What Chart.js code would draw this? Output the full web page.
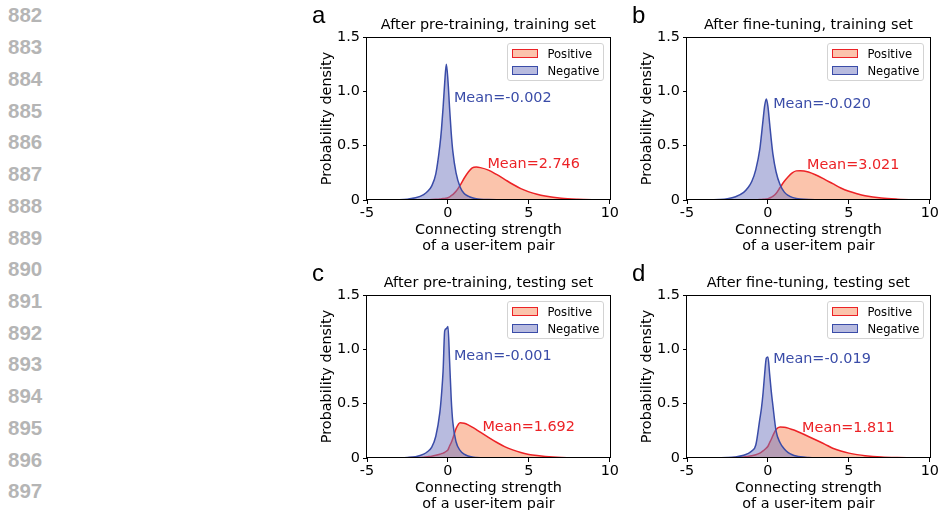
<!DOCTYPE html>
<html>
<head>
<meta charset="utf-8">
<script src="https://cdn.jsdelivr.net/npm/chart.js@4.4.1/dist/chart.umd.min.js"></script>
<style>
    html, body { margin: 0; padding: 0; background: #fff; overflow: hidden; }
    body { width: 938px; height: 510px; position: relative; font-family: "DejaVu Sans", sans-serif; }
    .line-no { position: absolute; left: 8px; font: bold 20.5px "Liberation Sans", Arial, sans-serif; color: #b5b5b5; line-height: 1; }
    .panel { position: absolute; width: 320px; height: 255px; }
    .panel canvas { position: absolute; left: 0; top: 0; }
    .letter { position: absolute; top: 3px; font: 24px "Liberation Sans", Arial, sans-serif; line-height: 1; color: #000; }
    .legend { position: absolute; width: 97px; height: 38px; box-sizing: border-box; border: 1px solid #d3d3d3; border-radius: 3px; background: rgba(255,255,255,0.8); padding-top: 1px; }
    .legend-item { height: 17px; display: flex; align-items: center; font-size: 11.6px; color: #000; }
    .legend-box { width: 26px; height: 8.5px; box-sizing: border-box; border: 1.5px solid; margin-left: 4.6px; margin-right: 9px; }
</style>
</head>
<body>
<script>
// shared x grid for the density curves
const xGrid = [-5, -4, -3, -2.5, -2, -1.5, -1.25, -1, -0.75, -0.5, -0.4, -0.3, -0.2, -0.1, 0, 0.1, 0.2, 0.3, 0.5, 0.75, 1, 1.25, 1.5, 1.75, 2, 2.5, 3, 3.5, 4, 4.5, 5, 5.5, 6, 7, 8, 9, 10];

// a: after pre-training, training set
const negA = [0, 0, 0.003, 0.008, 0.02, 0.05, 0.08, 0.13, 0.24, 0.5, 0.65, 0.85, 1.08, 1.25, 1.1, 0.85, 0.62, 0.45, 0.25, 0.12, 0.06, 0.035, 0.02, 0.012, 0.008, 0.004, 0.002, 0.001, 0, 0, 0, 0, 0, 0, 0, 0, 0];
const posA = [0, 0, 0, 0, 0.001, 0.002, 0.003, 0.004, 0.006, 0.009, 0.011, 0.013, 0.015, 0.017, 0.02, 0.028, 0.04, 0.05, 0.08, 0.135, 0.2, 0.255, 0.295, 0.303, 0.298, 0.275, 0.235, 0.19, 0.145, 0.105, 0.075, 0.052, 0.036, 0.016, 0.007, 0.003, 0.001];
// b: after fine-tuning, training set
const negB = [0, 0.001, 0.005, 0.012, 0.03, 0.07, 0.11, 0.17, 0.28, 0.47, 0.6, 0.74, 0.87, 0.93, 0.86, 0.71, 0.56, 0.43, 0.26, 0.14, 0.075, 0.042, 0.024, 0.014, 0.009, 0.004, 0.002, 0.001, 0, 0, 0, 0, 0, 0, 0, 0, 0];
const posB = [0, 0, 0, 0, 0, 0.001, 0.001, 0.002, 0.003, 0.004, 0.005, 0.006, 0.007, 0.009, 0.012, 0.018, 0.025, 0.033, 0.06, 0.115, 0.17, 0.215, 0.25, 0.268, 0.27, 0.258, 0.228, 0.19, 0.15, 0.11, 0.08, 0.058, 0.04, 0.018, 0.008, 0.003, 0.001];
// c: after pre-training, testing set
const negC = [0, 0, 0.002, 0.005, 0.012, 0.035, 0.06, 0.1, 0.2, 0.42, 0.58, 0.8, 1.17, 1.19, 1.21, 0.9, 0.55, 0.33, 0.15, 0.07, 0.035, 0.018, 0.009, 0.005, 0.003, 0.001, 0, 0, 0, 0, 0, 0, 0, 0, 0, 0, 0];
const posC = [0, 0, 0.001, 0.002, 0.004, 0.008, 0.012, 0.017, 0.025, 0.035, 0.04, 0.045, 0.052, 0.062, 0.075, 0.11, 0.14, 0.18, 0.27, 0.325, 0.32, 0.305, 0.285, 0.262, 0.238, 0.19, 0.145, 0.105, 0.075, 0.05, 0.033, 0.022, 0.014, 0.005, 0.002, 0.001, 0];
// d: after fine-tuning, testing set
const negD = [0, 0, 0.002, 0.004, 0.01, 0.025, 0.04, 0.065, 0.12, 0.36, 0.46, 0.6, 0.78, 0.92, 0.93, 0.78, 0.62, 0.49, 0.25, 0.14, 0.085, 0.05, 0.03, 0.018, 0.011, 0.005, 0.002, 0.001, 0, 0, 0, 0, 0, 0, 0, 0, 0];
const posD = [0, 0, 0.001, 0.002, 0.005, 0.01, 0.014, 0.02, 0.03, 0.045, 0.055, 0.065, 0.078, 0.092, 0.108, 0.14, 0.17, 0.205, 0.262, 0.286, 0.284, 0.275, 0.262, 0.248, 0.232, 0.198, 0.163, 0.128, 0.09, 0.064, 0.045, 0.031, 0.021, 0.009, 0.004, 0.002, 0.001];

const panelLetters = ['a', 'b', 'c', 'd'];
const panelTitles = ['After pre-training, training set', 'After fine-tuning, training set', 'After pre-training, testing set', 'After fine-tuning, testing set'];
const negMeans = ['-0.002', '-0.020', '-0.001', '-0.019'];
const posMeans = ['2.746', '3.021', '1.692', '1.811'];
const seriesNames = ['Positive', 'Negative'];
const lineNumbers = [882, 883, 884, 885, 886, 887, 888, 889, 890, 891, 892, 893, 894, 895, 896, 897];

const FONT = '"DejaVu Sans", sans-serif';
const RED = 'rgb(236, 34, 38)';
const BLUE = 'rgb(58, 76, 168)';
const RED_FILL = 'rgba(247, 137, 89, 0.5)';
const BLUE_FILL = 'rgba(113, 119, 191, 0.5)';

// where the "Mean=" labels sit, in data units of each panel
const meanSpots = [
    { neg: [0.37, 0.9], pos: [2.44, 0.297] },
    { neg: [0.32, 0.85], pos: [2.41, 0.282] },
    { neg: [0.37, 0.9], pos: [2.13, 0.246] },
    { neg: [0.32, 0.876], pos: [2.11, 0.24] }
];
const panelPos = [[300, 0], [620, 0], [300, 258], [620, 258]];

lineNumbers.forEach((n, i) => {
    const d = document.createElement('div');
    d.className = 'line-no';
    d.style.top = (5.4 + i * 31.73) + 'px';
    d.textContent = n;
    document.body.appendChild(d);
});

const meanLabels = {
    id: 'meanLabels',
    afterDatasetsDraw(chart, args, opts) {
        const { ctx, scales: { x, y } } = chart;
        ctx.save();
        ctx.font = '14.4px ' + FONT;
        ctx.textBaseline = 'alphabetic';
        ctx.textAlign = 'left';
        opts.items.forEach(it => {
            ctx.fillStyle = it.color;
            ctx.fillText(it.text, x.getPixelForValue(it.x), y.getPixelForValue(it.y));
        });
        ctx.restore();
    }
};

const frame = {
    id: 'frame',
    afterDatasetsDraw(chart) {
        const { ctx, chartArea: a } = chart;
        ctx.save();
        ctx.strokeStyle = '#000';
        ctx.lineWidth = 1;
        ctx.strokeRect(Math.round(a.left) - 0.5, Math.round(a.top) + 0.5, Math.round(a.right - a.left) + 1, Math.round(a.bottom - a.top) - 1);
        ctx.restore();
    }
};

function toPoints(ys) {
    return xGrid.map((x, i) => ({ x: x, y: ys[i] }));
}

function makePanel(idx, neg, pos) {
    const panel = document.createElement('div');
    panel.className = 'panel';
    panel.style.left = panelPos[idx][0] + 'px';
    panel.style.top = panelPos[idx][1] + 'px';
    document.body.appendChild(panel);

    const canvas = document.createElement('canvas');
    canvas.width = 320;
    canvas.height = 255;
    panel.appendChild(canvas);

    const letter = document.createElement('div');
    letter.className = 'letter';
    letter.style.left = '12px';
    letter.textContent = panelLetters[idx];
    panel.appendChild(letter);

    const axisTicks = { drawOnChartArea: false, drawTicks: true, tickLength: 4, color: '#000' };
    const tickFont = { family: FONT, size: 14.4 };

    const chart = new Chart(canvas, {
        type: 'line',
        data: {
            datasets: [{
                label: 'Negative',
                data: toPoints(neg),
                borderColor: BLUE,
                backgroundColor: BLUE_FILL,
                fill: 'origin'
            }, {
                label: 'Positive',
                data: toPoints(pos),
                borderColor: RED,
                backgroundColor: RED_FILL,
                fill: 'origin'
            }]
        },
        options: {
            responsive: false,
            animation: false,
            elements: {
                point: { radius: 0 },
                line: { borderWidth: 1.5, cubicInterpolationMode: 'monotone' }
            },
            layout: { padding: { left: 0, right: 9, top: 0, bottom: 0 } },
            plugins: {
                legend: { display: false },
                tooltip: { enabled: false },
                title: {
                    display: true,
                    text: panelTitles[idx],
                    fullSize: false,
                    color: '#000',
                    font: { family: FONT, size: 14.4, weight: 'normal', lineHeight: 1.2 },
                    padding: { top: 17, bottom: 2.72 }
                },
                meanLabels: {
                    items: [
                        { text: 'Mean=' + negMeans[idx], x: meanSpots[idx].neg[0], y: meanSpots[idx].neg[1], color: BLUE },
                        { text: 'Mean=' + posMeans[idx], x: meanSpots[idx].pos[0], y: meanSpots[idx].pos[1], color: RED }
                    ]
                }
            },
            scales: {
                x: {
                    type: 'linear',
                    min: -5,
                    max: 10,
                    afterFit: s => { s.height = 55; },
                    ticks: { stepSize: 5, color: '#000', font: tickFont, padding: 1, maxRotation: 0, autoSkip: false },
                    grid: axisTicks,
                    border: { display: false },
                    title: {
                        display: true,
                        text: ['Connecting strength', 'of a user-item pair'],
                        color: '#000',
                        font: { family: FONT, size: 14.4, lineHeight: 1.12 },
                        padding: { top: 0, bottom: 1 }
                    }
                },
                y: {
                    min: 0,
                    max: 1.5,
                    afterFit: s => { s.width = 67; },
                    ticks: {
                        stepSize: 0.5,
                        color: '#000',
                        font: tickFont,
                        padding: 3,
                        callback: v => v === 0 ? '0' : v.toFixed(1)
                    },
                    grid: axisTicks,
                    border: { display: false },
                    title: {
                        display: true,
                        text: 'Probability density',
                        color: '#000',
                        font: { family: FONT, size: 14.4, lineHeight: 1.2 },
                        padding: { top: 19, bottom: 0 }
                    }
                }
            }
        },
        plugins: [meanLabels, frame]
    });

    // legend box in the upper right of the plot area
    const area = chart.chartArea;
    const legend = document.createElement('div');
    legend.className = 'legend';
    legend.style.left = (area.right - 6 - 97) + 'px';
    legend.style.top = (area.top + 6) + 'px';
    seriesNames.forEach(name => {
        const item = document.createElement('div');
        item.className = 'legend-item';
        const box = document.createElement('div');
        box.className = 'legend-box';
        box.style.borderColor = name === 'Positive' ? RED : BLUE;
        box.style.backgroundColor = name === 'Positive' ? RED_FILL : BLUE_FILL;
        const text = document.createElement('span');
        text.textContent = name;
        item.appendChild(box);
        item.appendChild(text);
        legend.appendChild(item);
    });
    panel.appendChild(legend);
}

makePanel(0, negA, posA);
makePanel(1, negB, posB);
makePanel(2, negC, posC);
makePanel(3, negD, posD);
</script>
</body>
</html>
